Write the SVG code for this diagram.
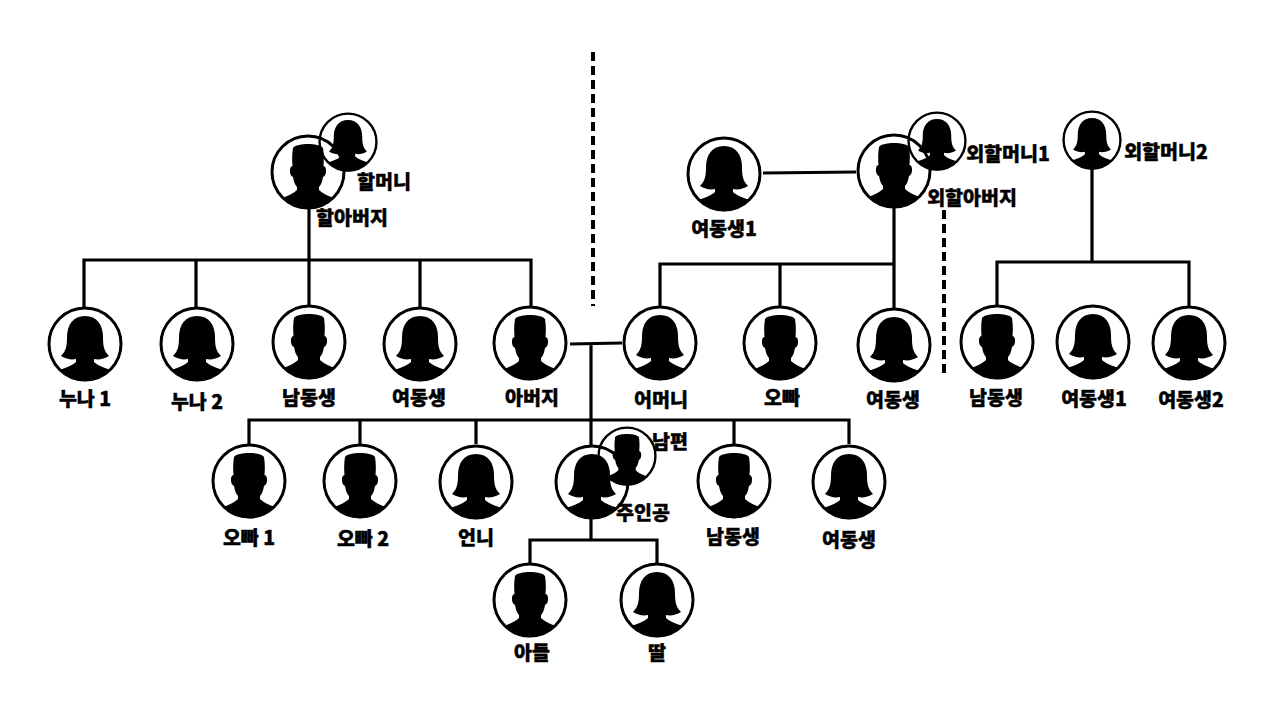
<svg xmlns="http://www.w3.org/2000/svg" width="1280" height="720" viewBox="0 0 1280 720">
<style>
.bg{fill:#fff}
.c{fill:none;stroke:#000;stroke-width:3}
.s{fill:#000}
.l{fill:none;stroke:#000;stroke-width:3.2}
.d{fill:none;stroke:#000;stroke-width:4;stroke-dasharray:9 5}
text{font-family:"Noto Sans CJK KR","Noto Sans",sans-serif;font-size:19.5px;font-weight:900;fill:#000;stroke:#000;stroke-width:.4;text-anchor:middle}
</style>
<defs>
<g id="f">
<path class="s" d="M0,-28C-12,-28-18,-19-18,-7C-18,2-19,7-24,12C-19,15-14,16-9,15L-9,18C-12,21-17,23-26,26A35.5,35.5 0 0 0 26,26C17,23 12,21 9,18L9,15C14,16 19,15 24,12C19,7 18,2 18,-7C18,-19 12,-28 0,-28Z"/>
<circle class="c" r="36"/>
</g>
<g id="m">
<path class="s" d="M-15,-24C-13,-27-6,-28 0,-28C6,-28 13,-27 15,-24C16,-18 16,-12 15.500,-6C19,-6 19,4 15,5C14,10 13,13 11,15L11,18C14,21 18,23 26,26A35.500,35.500 0 0 1 -26,26C-18,23-14,21-11,18L-11,15C-13,13-14,10-15,5C-19,4-19,-6-15.500,-6C-16,-12-16,-18-15,-24Z"/>
<circle class="c" r="36"/>
</g>
</defs>
<rect class="bg" width="1280" height="720"/>
<g id="connectors">
<path class="l" d="M309,208V307M84,307V260H531V307M196,260V307M420,260V307"/>
<path class="l" d="M763,173L856,172"/>
<path class="l" d="M894,208V264M660,307V264H894V309M780,264V307"/>
<path class="l" d="M1092,168V262M997,306V262H1189V306"/>
<path class="l" d="M570,344L622,343M591,343V446M249,444V420H849V444M360,420V444M476,420V444M734,420V444"/>
<path class="l" d="M591,518V540M530,565V540H657V565"/>
<path class="d" d="M593,52V306"/>
<path class="d" d="M944,210V376"/>
</g>
<g id="n-grandfather"><use href="#m" transform="translate(308,172)"/><text x="352" y="225">할아버지</text></g>
<g id="n-grandmother"><use href="#f" transform="translate(348,142) scale(.79)"/><text x="384" y="189">할머니</text></g>
<g id="n-sister1-top"><use href="#f" transform="translate(724,174)"/><text x="724" y="236">여동생1</text></g>
<g id="n-mgrandfather"><use href="#m" transform="translate(894,171)"/><text x="972" y="205">외할아버지</text></g>
<g id="n-mgrandmother1"><use href="#f" transform="translate(937,141) scale(.79)"/><text x="1008" y="161">외할머니1</text></g>
<g id="n-mgrandmother2"><use href="#f" transform="translate(1092,140) scale(.79)"/><text x="1166" y="159">외할머니2</text></g>
<g id="n-a1"><use href="#f" transform="translate(85,344)"/><text x="85" y="406">누나 1</text></g>
<g id="n-a2"><use href="#f" transform="translate(197,344)"/><text x="197" y="409">누나 2</text></g>
<g id="n-a3"><use href="#m" transform="translate(309,342)"/><text x="309" y="405">남동생</text></g>
<g id="n-a4"><use href="#f" transform="translate(420,344)"/><text x="419" y="405">여동생</text></g>
<g id="n-father"><use href="#m" transform="translate(530,343)"/><text x="532" y="405">아버지</text></g>
<g id="n-mother"><use href="#f" transform="translate(660,343)"/><text x="661" y="407">어머니</text></g>
<g id="n-b1"><use href="#m" transform="translate(780,343)"/><text x="782" y="405">오빠</text></g>
<g id="n-b2"><use href="#f" transform="translate(894,345)"/><text x="893" y="407">여동생</text></g>
<g id="n-c1"><use href="#m" transform="translate(997,342)"/><text x="996" y="405">남동생</text></g>
<g id="n-c2"><use href="#f" transform="translate(1093,342)"/><text x="1094" y="406">여동생1</text></g>
<g id="n-c3"><use href="#f" transform="translate(1189,343)"/><text x="1191" y="407">여동생2</text></g>
<g id="n-d1"><use href="#m" transform="translate(249,481)"/><text x="249" y="545">오빠 1</text></g>
<g id="n-d2"><use href="#m" transform="translate(360,481)"/><text x="363" y="546">오빠 2</text></g>
<g id="n-d3"><use href="#f" transform="translate(476,482)"/><text x="476" y="545">언니</text></g>
<g id="n-hero"><use href="#f" transform="translate(592,482)"/><text x="643" y="520">주인공</text></g>
<g id="n-husband"><use href="#m" transform="translate(627,456) scale(.79)"/><text x="670" y="449">남편</text></g>
<g id="n-d5"><use href="#m" transform="translate(734,481)"/><text x="733" y="544">남동생</text></g>
<g id="n-d6"><use href="#f" transform="translate(849,482)"/><text x="849" y="547">여동생</text></g>
<g id="n-son"><use href="#m" transform="translate(530,600)"/><text x="532" y="660">아들</text></g>
<g id="n-daughter"><use href="#f" transform="translate(657,600)"/><text x="657" y="660">딸</text></g>
</svg>
